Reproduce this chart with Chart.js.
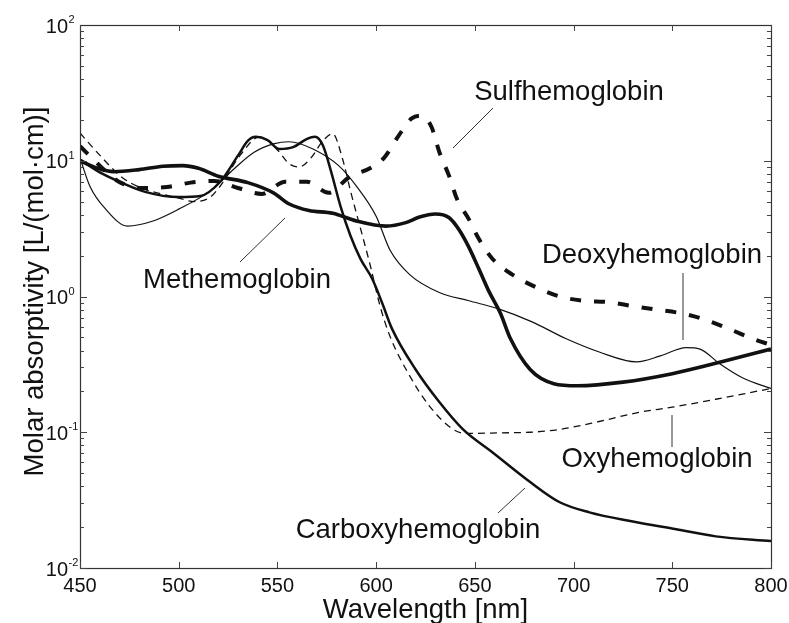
<!DOCTYPE html>
<html>
<head>
<meta charset="utf-8">
<script src="https://cdn.jsdelivr.net/npm/chart.js@4.4.1/dist/chart.umd.min.js"></script>
<style>
  html, body { margin: 0; padding: 0; background: #fff; }
  #wrap { width: 789px; height: 623px; }
</style>
</head>
<body>
<div id="wrap"><canvas id="spectra" width="789" height="623"></canvas></div>
<script>
// Molar absorptivity spectra of the hemoglobin species, wavelength in nm
const methWl = [450, 458, 467, 480, 492, 502, 510, 520, 535, 548, 556, 566, 578, 590, 605, 615, 622, 630, 637, 642, 647, 652, 657, 663, 668, 678, 690, 702, 725, 750, 775, 800];
const methVal = [10.0, 8.9, 8.3, 8.6, 9.1, 9.2, 8.8, 7.7, 6.9, 5.8, 4.8, 4.3, 4.1, 3.6, 3.3, 3.5, 3.85, 4.05, 3.8, 3.1, 2.3, 1.6, 1.1, 0.75, 0.49, 0.29, 0.228, 0.22, 0.234, 0.27, 0.33, 0.41];

const sulfWl = [450, 459, 469, 481, 494, 506, 518, 530, 542, 554, 565, 576, 586, 598, 604, 611, 618, 623, 628, 632, 637, 641, 647, 652, 659, 669, 681, 693, 705, 717, 730, 742, 755, 766, 779, 791, 800];
const sulfVal = [12.8, 9.5, 7.1, 6.3, 6.4, 6.9, 7.1, 6.3, 5.7, 7.0, 7.0, 5.8, 7.5, 9.0, 10.5, 15, 20.5, 21.5, 17.8, 11.6, 7.7, 5.2, 3.7, 2.66, 1.89, 1.45, 1.17, 1.0, 0.93, 0.91, 0.85, 0.80, 0.75, 0.68, 0.575, 0.486, 0.44];

const carbWl = [450, 460, 470, 483, 500, 511, 521, 530, 535, 539, 545, 551, 558, 565, 569, 573, 577, 582, 587, 592, 598, 603, 608, 620, 632, 644, 659, 678, 693, 708, 730, 752, 772, 800];
const carbVal = [10.2, 8.2, 7.0, 5.9, 5.4, 5.5, 7.0, 10.9, 14, 15, 14.2, 12.2, 12.6, 14.5, 15, 13, 8.5, 4.6, 2.8, 1.9, 1.35, 0.9, 0.58, 0.29, 0.167, 0.105, 0.071, 0.043, 0.0305, 0.0257, 0.022, 0.0193, 0.0171, 0.0158];

const oxyWl = [450, 460, 471, 481, 491, 500, 508, 516, 521, 531, 541, 550, 556, 561, 567, 573, 578, 583, 587, 592, 597, 602, 607, 617, 627, 639, 646, 663, 678, 693, 713, 733, 750, 772, 800];
const oxyVal = [16, 11, 7.6, 6.3, 5.7, 5.3, 5.0, 5.4, 6.5, 10.9, 15, 12, 9.5, 9.0, 10.5, 14, 15.8, 10.3, 6.0, 3.2, 1.7, 0.85, 0.51, 0.26, 0.156, 0.105, 0.098, 0.099, 0.1, 0.105, 0.12, 0.14, 0.153, 0.175, 0.21];

const deoxyWl = [450, 455, 463, 474, 487, 500, 516, 528, 538, 548, 556, 568, 581, 590, 600, 607, 617, 632, 647, 662, 679, 696, 713, 732, 744, 757, 764, 774, 786, 800];
const deoxyVal = [10.5, 6.5, 4.4, 3.3, 3.6, 4.4, 6.0, 8.7, 11.5, 13.3, 13.8, 12.2, 9.2, 6.5, 3.9, 2.2, 1.45, 1.07, 0.93, 0.81, 0.65, 0.49, 0.39, 0.33, 0.365, 0.42, 0.41, 0.32, 0.25, 0.21];

const xTicks = [450, 500, 550, 600, 650, 700, 750, 800];
const yDecades = [-2, -1, 0, 1, 2];

const FONT = "'Liberation Sans', Arial, Helvetica, sans-serif";
const INK = "#111";

function pairs(wl, val) {
  return wl.map((x, i) => ({ x: x, y: val[i] }));
}

function curve(label, wl, val, width, dash) {
  return {
    label: label,
    data: pairs(wl, val),
    borderColor: INK,
    borderWidth: width,
    borderDash: dash || [],
    borderCapStyle: "butt",
    cubicInterpolationMode: "monotone",
    pointRadius: 0,
    fill: false,
  };
}

// curve labels with their leader lines: text centre/baseline, then line ends
const callouts = [
  { text: "Methemoglobin", x: 237, y: 288, line: [240, 262, 285, 218] },
  { text: "Sulfhemoglobin", x: 569, y: 100, line: [493, 108, 453, 148] },
  { text: "Deoxyhemoglobin", x: 652, y: 263, line: [683, 273, 683, 340] },
  { text: "Oxyhemoglobin", x: 657, y: 467, line: [672, 415, 672, 447] },
  { text: "Carboxyhemoglobin", x: 418, y: 538, line: [498, 513, 525, 488] },
];

// frame, inward ticks, power-of-ten labels, axis titles and callouts
const decorations = {
  id: "decorations",
  afterDraw(chart) {
    const ctx = chart.ctx;
    const area = chart.chartArea;
    const xs = chart.scales.x;
    const ys = chart.scales.y;
    ctx.save();

    ctx.strokeStyle = "#333";
    ctx.lineWidth = 1.2;
    ctx.strokeRect(area.left + 0.5, area.top + 0.5, area.right - area.left, area.bottom - area.top);

    ctx.lineWidth = 1;
    ctx.strokeStyle = "#444";
    ctx.beginPath();
    xTicks.forEach((v) => {
      const px = Math.round(xs.getPixelForValue(v)) + 0.5;
      ctx.moveTo(px, area.bottom);
      ctx.lineTo(px, area.bottom - 6);
      ctx.moveTo(px, area.top);
      ctx.lineTo(px, area.top + 6);
    });
    for (let d = -2; d < 2; d++) {
      for (let m = 1; m <= 9; m++) {
        const py = Math.round(ys.getPixelForValue(m * Math.pow(10, d))) + 0.5;
        const len = m === 1 ? 7 : 4;
        ctx.moveTo(area.left, py);
        ctx.lineTo(area.left + len, py);
        ctx.moveTo(area.right, py);
        ctx.lineTo(area.right - len, py);
      }
    }
    ctx.stroke();

    ctx.fillStyle = INK;
    yDecades.forEach((p) => {
      const py = ys.getPixelForValue(Math.pow(10, p));
      ctx.font = "20px " + FONT;
      ctx.textAlign = "right";
      ctx.textBaseline = "middle";
      ctx.fillText("10", 68, py + 2);
      ctx.font = "11px " + FONT;
      ctx.textAlign = "left";
      ctx.fillText(String(p), 68.5, py - 5);
    });

    ctx.font = "27.5px " + FONT;
    ctx.textAlign = "center";
    ctx.textBaseline = "alphabetic";
    ctx.fillText("Wavelength [nm]", (area.left + area.right) / 2, 618);

    ctx.save();
    ctx.translate(43, 291.5);
    ctx.rotate(-Math.PI / 2);
    ctx.fillText("Molar absorptivity [L/(mol\u00b7cm)]", 0, 0);
    ctx.restore();

    ctx.font = "27.5px " + FONT;
    ctx.strokeStyle = "#333";
    ctx.lineWidth = 1;
    callouts.forEach((c) => {
      ctx.fillText(c.text, c.x, c.y);
      ctx.beginPath();
      ctx.moveTo(c.line[0], c.line[1]);
      ctx.lineTo(c.line[2], c.line[3]);
      ctx.stroke();
    });

    ctx.restore();
  },
};

new Chart(document.getElementById("spectra"), {
  type: "line",
  data: {
    datasets: [
      curve("Oxyhemoglobin", oxyWl, oxyVal, 1.3, [7, 5]),
      curve("Deoxyhemoglobin", deoxyWl, deoxyVal, 1.2),
      curve("Carboxyhemoglobin", carbWl, carbVal, 2.5),
      curve("Sulfhemoglobin", sulfWl, sulfVal, 4, [11, 13]),
      curve("Methemoglobin", methWl, methVal, 3.6),
    ],
  },
  options: {
    responsive: false,
    devicePixelRatio: 1,
    animation: false,
    layout: { padding: { top: 25, right: 18, left: 0, bottom: 0 } },
    plugins: {
      legend: { display: false },
      tooltip: { enabled: false },
    },
    scales: {
      x: {
        type: "linear",
        min: 450,
        max: 800,
        afterBuildTicks: (scale) => {
          scale.ticks = xTicks.map((v) => ({ value: v }));
        },
        grid: { display: false, drawTicks: false },
        border: { display: false },
        ticks: {
          color: INK,
          font: { size: 20, family: FONT },
          padding: 6,
          maxRotation: 0,
          autoSkip: false,
        },
        afterFit: (scale) => {
          // end labels may hang past the plot box; keep the box fixed
          scale.height = 55;
          scale.paddingLeft = 0;
          scale.paddingRight = 0;
        },
      },
      y: {
        type: "logarithmic",
        min: 0.01,
        max: 100,
        grid: { display: false, drawTicks: false },
        border: { display: false },
        ticks: { display: false },
        afterFit: (scale) => {
          scale.width = 80;
          scale.paddingTop = 0;
          scale.paddingBottom = 0;
        },
      },
    },
  },
  plugins: [decorations],
});
</script>
</body>
</html>
